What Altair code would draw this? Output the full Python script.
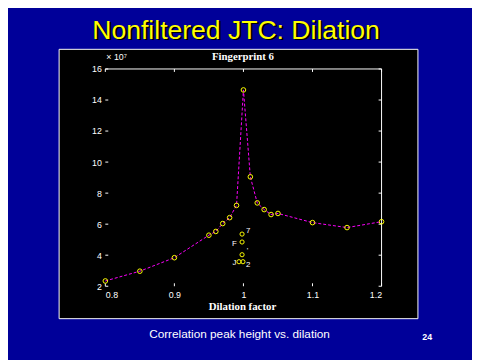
import altair as alt
import pandas as pd

# ---- data ----
dilation = [0.80, 0.85, 0.90, 0.95, 0.96, 0.97, 0.98, 0.99, 1.00, 1.01,
            1.02, 1.03, 1.04, 1.05, 1.10, 1.15, 1.20]
peak = [2.34, 2.97, 3.84, 5.29, 5.53, 6.04, 6.42, 7.21, 14.65, 9.05,
        7.37, 6.94, 6.62, 6.69, 6.10, 5.78, 6.16]

x_ticks = [0.8, 0.9, 1.0, 1.1, 1.2]
y_ticks = [2, 4, 6, 8, 10, 12, 14, 16]

# stray yellow markers and glyphs in the middle of the plot
stray_x = [0.998, 0.998, 0.998, 0.9936, 0.9993]
stray_y = [5.36, 4.85, 4.03, 3.58, 3.58]
glyph_x = [1.007, 0.987, 1.006, 0.987, 1.007]
glyph_y = [5.55, 4.75, 4.30, 3.50, 3.35]
glyph_t = ["7", "F", "'", "J", "2"]

W, H = 281, 221
BG = "#000099"
WHITE = "#ffffff"

df = pd.DataFrame({"x": dilation, "y": peak})
xt = pd.DataFrame({"x": x_ticks})
yt = pd.DataFrame({"y": y_ticks})
stray = pd.DataFrame({"x": stray_x, "y": stray_y})
glyphs = pd.DataFrame({"x": glyph_x, "y": glyph_y, "t": glyph_t})
one = pd.DataFrame({"a": [0]})

xs = alt.Scale(domain=[0.8, 1.2], nice=False, zero=False)
ys = alt.Scale(domain=[2, 16], nice=False, zero=False)
X_AX = alt.Axis(values=x_ticks, format="~g", domain=False, ticks=False, grid=False,
                labelColor=WHITE, labelFont="Liberation Sans", labelFontSize=9,
                labelPadding=4, zindex=1, title=None)
Y_AX = alt.Axis(values=y_ticks, domain=False, ticks=False, grid=False,
                labelColor=WHITE, labelFont="Liberation Sans", labelFontSize=9,
                labelPadding=4, zindex=1, title=None)

def X(f="x"):
    return alt.X(f"{f}:Q", scale=xs, axis=X_AX, title=None)

def Y(f="y"):
    return alt.Y(f"{f}:Q", scale=ys, axis=Y_AX, title=None)

panel = alt.Chart(one).mark_rect(fill="black", stroke=WHITE, strokeWidth=1).encode(
    x=alt.value(-47), x2=alt.value(318), y=alt.value(-20), y2=alt.value(254))

top_line = alt.Chart(one).mark_rule(color=WHITE, strokeWidth=1).encode(
    x=alt.value(0), x2=alt.value(W), y=alt.value(0))
right_line = alt.Chart(one).mark_rule(color=WHITE, strokeWidth=1).encode(
    x=alt.value(W), y=alt.value(0), y2=alt.value(H))

xt_bot = alt.Chart(xt).mark_rule(color=WHITE).encode(x=X(), y=alt.value(H - 3), y2=alt.value(H))
xt_top = alt.Chart(xt).mark_rule(color=WHITE).encode(x=X(), y=alt.value(0), y2=alt.value(3))
yt_left = alt.Chart(yt).mark_rule(color=WHITE).encode(y=Y(), x=alt.value(0), x2=alt.value(3))
yt_right = alt.Chart(yt).mark_rule(color=WHITE).encode(y=Y(), x=alt.value(W - 3), x2=alt.value(W))

line = alt.Chart(df).mark_line(color="#ff00ff", strokeWidth=1, strokeDash=[3, 2]).encode(
    x=X(), y=Y())
pts = alt.Chart(df).mark_point(shape="circle", size=22, color="#ffff00", filled=False,
                               strokeWidth=1, opacity=1).encode(x=X(), y=Y())
stray_pts = alt.Chart(stray).mark_point(shape="circle", size=18, color="#ffff00", filled=False,
                                        strokeWidth=1, opacity=1).encode(x=X(), y=Y())
glyph_txt = alt.Chart(glyphs).mark_text(color=WHITE, font="Liberation Sans", fontSize=8).encode(
    x=X(), y=Y(), text="t:N")

def label(txt, x, y, size, color=WHITE, font="Liberation Sans", weight="normal", align="center"):
    return alt.Chart(one).mark_text(text=txt, color=color, font=font, fontSize=size,
                                    fontWeight=weight, align=align, baseline="alphabetic").encode(
        x=alt.value(x), y=alt.value(y))

title_shadow = label("Nonfiltered JTC: Dilation", 135, -29, 27, color="#000000")
title = label("Nonfiltered JTC: Dilation", 133, -31, 27, color="#ffff00")
fp = label("Fingerprint 6", 140, -9, 11, font="Liberation Serif", weight="bold")
xlab = label("Dilation factor", 139.5, 245, 11, font="Liberation Serif", weight="bold")
expo = label("× 10⁷", 1, -9, 9, align="left")
caption = label("Correlation peak height vs. dilation", 136.5, 274, 12)
page = label("24", 327.5, 276, 9, weight="bold")

chart = alt.layer(
    panel, top_line, right_line, xt_bot, xt_top, yt_left, yt_right,
    line, pts, stray_pts, glyph_txt,
    title_shadow, title, fp, xlab, expo, caption, page
).properties(
    width=W, height=H, background=BG,
    autosize=alt.AutoSizeParams(type="none"),
    padding={"left": 99, "top": 59, "right": 92, "bottom": 72},
).configure_view(strokeWidth=0)

chart.save("out.html", embed_options={"renderer": "svg", "actions": False})
